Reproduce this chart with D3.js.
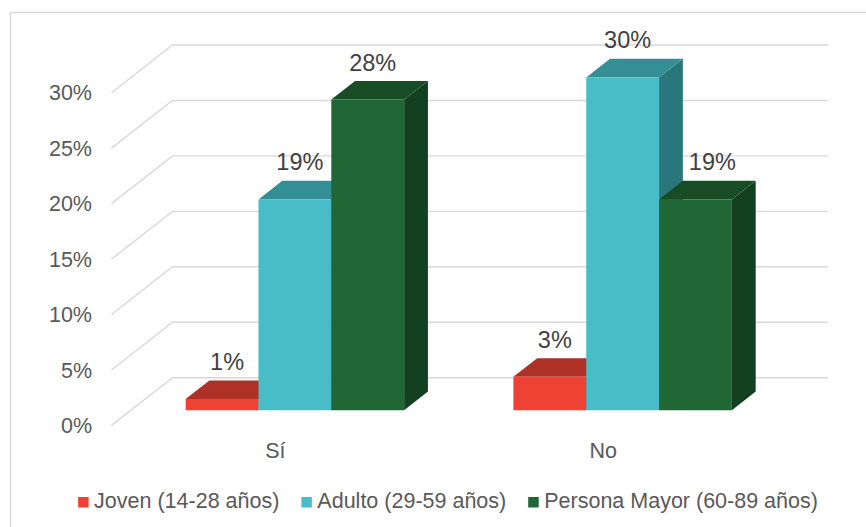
<!DOCTYPE html>
<html>
<head>
<meta charset="utf-8">
<script src="https://cdn.jsdelivr.net/npm/d3@7"></script>
<style>
  html, body { margin: 0; padding: 0; background: #ffffff; }
  svg { display: block; font-family: "Liberation Sans", Arial, sans-serif; }
</style>
</head>
<body>
<svg id="chart" width="866" height="527"></svg>
<script>
// Categories and series values (shares of respondents)
const categories = ["Sí", "No"];
const seriesNames = ["Joven (14-28 años)", "Adulto (29-59 años)", "Persona Mayor (60-89 años)"];
const joven = [0.01, 0.03];
const adulto = [0.19, 0.30];
const mayor = [0.28, 0.19];
const yTicks = [0, 0.05, 0.10, 0.15, 0.20, 0.25, 0.30];

// Face shades per series: front, top, side
const frontColors = ["#ee4234", "#48bdc7", "#216635"];
const topColors = ["#ae3027", "#338f95", "#174c25"];
const sideColors = ["#8f271f", "#2a777b", "#134020"];

const seriesValues = [joven, adulto, mayor];

const svg = d3.select("#chart");

// Outer chart frame
svg.append("rect")
  .attr("x", 10.5).attr("y", 12.5)
  .attr("width", 900).attr("height", 560)
  .attr("fill", "none").attr("stroke", "#d9d9d9").attr("stroke-width", 1.5);

// Oblique 3D projection: front plane scales plus a depth vector
const depthX = 61, depthY = 47.7;
const x = d3.scaleBand().domain(categories).range([111.5, 767]);
const y = d3.scaleLinear().domain([0, 0.30]).range([425.4, 92.7]);
const inner = d3.scaleBand().domain(d3.range(seriesNames.length))
  .range([0, x.bandwidth()]).paddingInner(0).paddingOuter(0.75);
const f0 = 0.32, f1 = 0.71;   // bar depth span, front to back

const P = (px, v, d) => [px + d * depthX, y(v) - d * depthY];

// Walls: gridlines run across the side wall and along the back wall
const grid = svg.append("g");
yTicks.forEach(t => {
  const pts = [P(x.range()[0], t, 0), P(x.range()[0], t, 1), P(x.range()[1], t, 1)];
  grid.append("path")
    .attr("d", d3.line()(pts))
    .attr("fill", "none").attr("stroke", "#d9d9d9").attr("stroke-width", 1.4);
});

// Value axis labels
svg.append("g").selectAll("text").data(yTicks).join("text")
  .attr("x", 92).attr("y", d => y(d)).attr("dy", "0.36em")
  .attr("text-anchor", "end")
  .attr("font-size", 21.5).attr("fill", "#595959")
  .text(d => d3.format(".0%")(d));

// Category labels under the floor
svg.append("g").selectAll("text").data(categories).join("text")
  .attr("x", d => x(d) + x.bandwidth() / 2).attr("y", 457.7)
  .attr("text-anchor", "middle")
  .attr("font-size", 21.5).attr("fill", "#595959")
  .text(d => d);

// Bars drawn left to right so each one hides the side of its neighbour
const bars = svg.append("g");
const labels = svg.append("g");
const poly = pts => "M" + pts.map(p => p.join(",")).join("L") + "Z";
categories.forEach((cat, ci) => {
  seriesNames.forEach((s, si) => {
    const v = seriesValues[si][ci];
    const x0 = x(cat) + inner(si);
    const x1 = x0 + inner.bandwidth();
    const g = bars.append("g");
    g.append("path")
      .attr("d", poly([P(x1, 0, f0), P(x1, 0, f1), P(x1, v, f1), P(x1, v, f0)]))
      .attr("fill", sideColors[si]);
    g.append("path")
      .attr("d", poly([P(x0, v, f0), P(x1, v, f0), P(x1, v, f1), P(x0, v, f1)]))
      .attr("fill", topColors[si]);
    g.append("path")
      .attr("d", poly([P(x0, 0, f0), P(x1, 0, f0), P(x1, v, f0), P(x0, v, f0)]))
      .attr("fill", frontColors[si]);

    const front = P((x0 + x1) / 2, v, f0);
    const back = P((x0 + x1) / 2, v, f1);
    const label = labels.append("text")
      .attr("y", back[1] - 10.5)
      .attr("text-anchor", "middle")
      .attr("font-size", 23.5).attr("fill", "#404040")
      .text(d3.format(".0%")(v));
    let cx = front[0] + 5;
    // keep the label clear of a taller neighbour's side face
    if (si > 0 && seriesValues[si - 1][ci] > v) {
      const half = label.node().getComputedTextLength() / 2;
      const sideRight = P(x0, 0, f1)[0];
      cx = Math.max(cx, sideRight + 6 + half);
    }
    label.attr("x", cx);
  });
});

// Legend, centred under the plot
const legend = svg.append("g");
let cursor = 0;
seriesNames.forEach((name, i) => {
  const g = legend.append("g");
  g.append("rect").attr("x", 0).attr("y", -10.5).attr("width", 10.5).attr("height", 10.5)
    .attr("fill", frontColors[i]);
  const t = g.append("text").attr("x", 16).attr("y", 0)
    .attr("font-size", 21.5).attr("fill", "#595959").text(name);
  const w = 16 + t.node().getComputedTextLength();
  g.attr("transform", `translate(${cursor},0)`);
  cursor += w + 22;
});
const total = cursor - 22;
legend.attr("transform", `translate(${448 - total / 2},507.5)`);
</script>
</body>
</html>
